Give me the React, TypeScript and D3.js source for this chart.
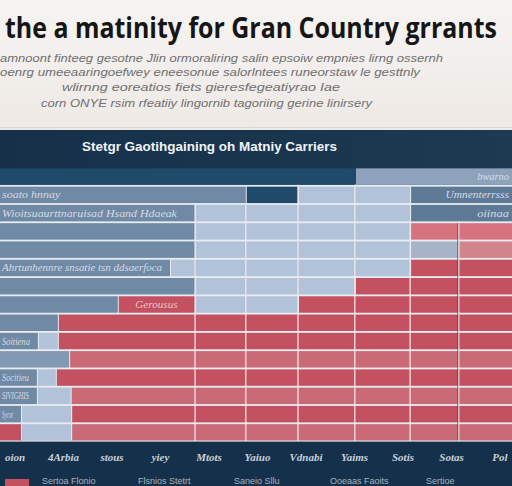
import React, { useLayoutEffect, useRef, useState } from "react";
import * as d3 from "d3";

const W = 512;
const H = 486;

const titleText = "the  a matinity for Gran Country grrants";
const subtitleLines = [
  "amnoont finteeg gesotne Jlin ormoraliring salin epsoiw empnies lirng ossernh",
  "oenrg umeeaaringoefwey eneesonue salorlntees runeorstaw le gesttnly",
  "wlirnng eoreatios fiets gieresfegeatiyrao Iae",
  "corn ONYE rsim rfeatiiy lingornib tagoriing gerine linirsery",
];
const panelTitle = "Stetgr Gaotihgaining oh Matniy Carriers";

const categories = [
  "R0", "R1", "R2", "R3", "R4", "R5", "R6", "R7",
  "R8", "R9", "R10", "R11", "R12", "R13", "R14",
];

const segmentKinds: string[][] = [
  ["navy", "mist"],
  ["slate", "navy", "light", "steel"],
  ["slate", "light", "steel"],
  ["slate", "light", "rose"],
  ["slate", "light", "mist2", "rose2"],
  ["slate", "light", "red"],
  ["slate", "light", "red"],
  ["slate", "red", "light", "red"],
  ["slate", "red"],
  ["slate", "light", "red"],
  ["slate2", "redLight"],
  ["slate", "light", "red"],
  ["slate", "light", "redLight"],
  ["slate", "light", "red"],
  ["red", "light", "redLight"],
];

const segmentValues: number[][] = [
  [69.3, 30.7],
  [48.0, 10.2, 21.9, 19.9],
  [38.1, 42.0, 19.9],
  [38.1, 42.0, 19.9],
  [38.1, 42.0, 9.4, 10.5],
  [33.2, 46.9, 19.9],
  [38.1, 31.2, 30.7],
  [23.0, 15.1, 20.1, 41.8],
  [11.3, 88.7],
  [7.4, 3.9, 88.7],
  [13.5, 86.5],
  [7.2, 3.7, 89.1],
  [7.2, 6.6, 86.2],
  [4.1, 9.8, 86.1],
  [4.1, 9.8, 86.1],
];

const segmentLabels: string[][] = [
  ["", "bwarno"],
  ["soato hnnay", "", "", "Umnenterrsss"],
  ["Wioitsuaurttnaruisad Hsand Hdaeak", "", "oiinaa"],
  ["", "", ""],
  ["", "", "", ""],
  ["Ahrtunhennre snsatie tsn ddsaerfoca", "", ""],
  ["", "", ""],
  ["", "Gerousus", "", ""],
  ["", ""],
  ["Soitiena", "", ""],
  ["", ""],
  ["Socitieu", "", ""],
  ["SIVIGHIS", "", ""],
  ["Sycot", "", ""],
  ["", "", ""],
];

const gridTicks = [38.1, 48.0, 58.2, 69.3, 80.1, 89.6];
const axisLabels = [
  "oion", "4Arbia", "stous", "yiey", "Mtots", "Yaiuo",
  "Vdnabi", "Yaims", "Sotis", "Sotas", "Pol",
];
const legendItems = ["Sertoa Flonio", "Flsnios Stetrt", "Saneio Sllu", "Ooeaas Faoits", "Sertioe"];

const kindColor: Record<string, string> = {
  navy: "#1f4a69",
  mist: "#8ea3bb",
  mist2: "#a7b3c7",
  slate: "#7089a4",
  slate2: "#8199b3",
  light: "#b2c2d9",
  steel: "#5f7a96",
  rose: "#d7737f",
  rose2: "#d0858d",
  red: "#c4515f",
  redLight: "#ca6a76",
};

const gridKinds = new Set(["light", "mist2", "rose", "rose2", "red", "redLight"]);

export default function App() {
  const titleRef = useRef<SVGTextElement>(null);
  const [titleScale, setTitleScale] = useState(0.8);

  useLayoutEffect(() => {
    if (titleRef.current) {
      const len = titleRef.current.getComputedTextLength();
      if (len > 0) setTitleScale(492 / len);
    }
  }, []);

  const x = d3.scaleLinear().domain([0, 100]).range([0, W]);
  const y = d3
    .scaleBand<string>()
    .domain(categories)
    .range([168, 441])
    .paddingInner(0.1)
    .paddingOuter(0.02);
  const xAxis = d3
    .scalePoint<string>()
    .domain(axisLabels)
    .range([15, 500]);

  const rows = categories.map((c, i) => {
    const vals = segmentValues[i];
    const starts = d3.cumsum([0, ...vals]);
    return vals.map((v, j) => ({
      cat: c,
      kind: segmentKinds[i][j],
      x0: starts[j],
      x1: starts[j] + v,
      label: segmentLabels[i][j],
      j,
      n: vals.length,
    }));
  });

  const lastRowBottom = (y(categories[categories.length - 1]) ?? 0) + y.bandwidth();

  const gridSegs: { key: string; xv: number; y0: number; y1: number }[] = [];
  rows.forEach((segs, i) => {
    if (i === 0) return;
    const yy = y(categories[i])!;
    gridTicks.forEach((t, k) => {
      const s = segs.find((sg) => t >= sg.x0 - 0.2 && t < sg.x1);
      if (s && gridKinds.has(s.kind)) {
        gridSegs.push({ key: `${i}-${k}`, xv: t, y0: yy - 2, y1: yy + y.bandwidth() + 1 });
      }
    });
  });

  return (
    <svg
      width={W}
      height={H}
      style={{ position: "absolute", left: 0, top: 0, display: "block" }}
      fontFamily="'Liberation Sans', Arial, sans-serif"
    >
      <defs>
        <linearGradient id="topbg" x1="0" y1="0" x2="0" y2="1">
          <stop offset="0" stopColor="#f6f4f2" />
          <stop offset="1" stopColor="#eee9e5" />
        </linearGradient>
        <linearGradient id="panel" x1="0" y1="0" x2="1" y2="0">
          <stop offset="0" stopColor="#16304a" />
          <stop offset="1" stopColor="#1c3a52" />
        </linearGradient>
      </defs>
      <rect x={0} y={0} width={W} height={130} fill="url(#topbg)" />
      <line x1={0} x2={W} y1={127.5} y2={127.5} stroke="#ddd6d0" />
      <text
        ref={titleRef}
        x={0}
        y={0}
        transform={`translate(5,38) scale(${titleScale},1)`}
        fontFamily="'Open Sans', sans-serif"
        fontWeight={700}
        fontSize={28}
        fill="#161616"
      >
        {titleText}
      </text>
      {subtitleLines.map((t, i) => {
        const pos = [
          [0, 443, 62],
          [0, 420, 76],
          [62, 278, 91],
          [41, 331, 107],
        ][i];
        return (
          <text
            key={i}
            x={pos[0]}
            y={pos[2]}
            fontSize={11}
            fontStyle="italic"
            fill="#707070"
            textLength={pos[1]}
            lengthAdjust="spacingAndGlyphs"
          >
            {t}
          </text>
        );
      })}

      <rect x={0} y={130} width={W} height={H - 130} fill="url(#panel)" />
      <text
        x={82}
        y={151}
        fontSize={13}
        fontWeight={700}
        fill="#f2f5f8"
        textLength={255}
        lengthAdjust="spacingAndGlyphs"
      >
        {panelTitle}
      </text>

      <rect
        x={0}
        y={y(categories[1])! - 2}
        width={W}
        height={lastRowBottom - y(categories[1])! + 2}
        fill="#e6ecf2"
      />

      {rows.map((segs, i) =>
        segs.map((s) => {
          const yy = y(s.cat)!;
          const h = y.bandwidth();
          const x0 = x(s.x0);
          const x1 = x(s.x1);
          const gap = s.j > 0 ? 1 : 0;
          let anchor: "start" | "middle" | "end" = "start";
          let tx = x0 + 2;
          if (s.j === s.n - 1 && s.j > 0) {
            anchor = "end";
            tx = x1 - 3;
          } else if (s.j > 0) {
            anchor = "middle";
            tx = (x0 + x1) / 2;
          }
          return (
            <g key={`${i}-${s.j}`}>
              <rect
                x={x0 + gap}
                y={yy}
                width={Math.max(0, x1 - x0 - gap)}
                height={h}
                fill={kindColor[s.kind]}
              />
              {s.label && (
                <text
                  x={tx}
                  y={yy + h / 2 + 3.5}
                  fontSize={10}
                  fontStyle="italic"
                  fontFamily="'Liberation Serif', serif"
                  fill={s.kind.startsWith("red") ? "#f0c2c6" : "#d3dce7"}
                  textAnchor={anchor}
                  textLength={Math.min(x1 - x0 - 10, s.label.length * 5.3)}
                  lengthAdjust="spacingAndGlyphs"
                >
                  {s.label}
                </text>
              )}
            </g>
          );
        })
      )}

      {gridSegs.map((g) => (
        <line
          key={g.key}
          x1={x(g.xv)}
          x2={x(g.xv)}
          y1={g.y0}
          y2={g.y1}
          stroke="#f1e6ea"
          strokeOpacity={0.85}
          strokeWidth={1.5}
        />
      ))}
      <line
        x1={x(gridTicks[5]) - 1}
        x2={x(gridTicks[5]) - 1}
        y1={y(categories[3])!}
        y2={lastRowBottom}
        stroke="#4a2a36"
        strokeOpacity={0.6}
        strokeWidth={1}
      />
      <line x1={0} x2={W} y1={lastRowBottom + 0.5} y2={lastRowBottom + 0.5} stroke="#e9dfe3" strokeWidth={1.5} />

      <rect x={0} y={lastRowBottom + 1} width={W} height={H - lastRowBottom} fill="#15304a" />
      {axisLabels.map((l) => (
        <text
          key={l}
          x={xAxis(l)}
          y={461}
          fontSize={11}
          fontWeight={700}
          fontStyle="italic"
          fontFamily="'Liberation Serif', serif"
          fill="#c6d0da"
          textAnchor="middle"
        >
          {l}
        </text>
      ))}

      <rect x={5} y={479} width={24} height={7} fill="#c4515f" />
      {legendItems.map((l, i) => (
        <text key={l} x={42 + i * 96} y={484} fontSize={9} fill="#a9b4bf">
          {l}
        </text>
      ))}
    </svg>
  );
}
